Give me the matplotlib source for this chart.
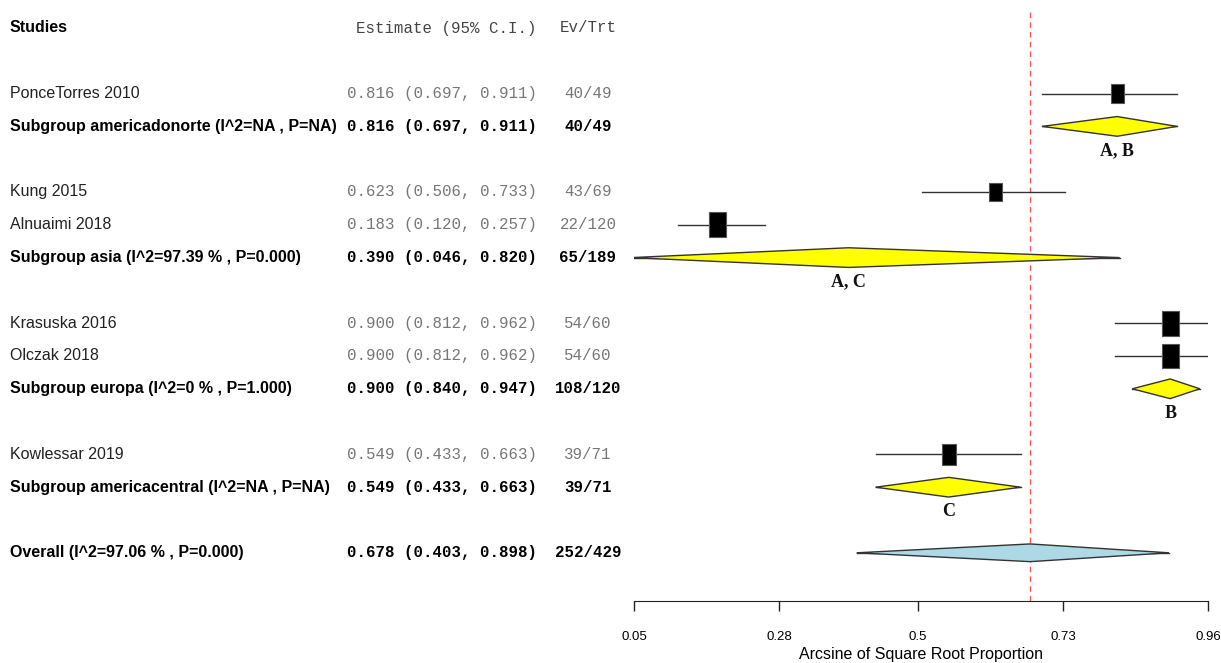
'''
Forest plot of pooled proportions by region (subgroup meta-analysis).
'''

import matplotlib
matplotlib.use("Agg")
import matplotlib.pyplot as plt
from matplotlib.patches import Rectangle, Polygon
from matplotlib.transforms import blended_transform_factory

# ---- data ----
studies = ["PonceTorres 2010", "Kung 2015", "Alnuaimi 2018",
           "Krasuska 2016", "Olczak 2018", "Kowlessar 2019"]
study_est = [0.816, 0.623, 0.183, 0.900, 0.900, 0.549]
study_lo = [0.697, 0.506, 0.120, 0.812, 0.812, 0.433]
study_hi = [0.911, 0.733, 0.257, 0.962, 0.962, 0.663]
study_evtrt = ["40/49", "43/69", "22/120", "54/60", "54/60", "39/71"]
study_weight = [13, 13, 17, 17, 17, 14]   # relative box size
study_group = [0, 1, 1, 2, 2, 3]

groups = ["Subgroup americadonorte (I^2=NA , P=NA)",
          "Subgroup asia (I^2=97.39 % , P=0.000)",
          "Subgroup europa (I^2=0 % , P=1.000)",
          "Subgroup americacentral (I^2=NA , P=NA)"]
group_est = [0.816, 0.390, 0.900, 0.549]
group_lo = [0.697, 0.046, 0.840, 0.433]
group_hi = [0.911, 0.820, 0.947, 0.663]
group_evtrt = ["40/49", "65/189", "108/120", "39/71"]
group_letters = ["A, B", "A, C", "B", "C"]

overall_label = "Overall (I^2=97.06 % , P=0.000)"
overall_est = 0.678
overall_lo = 0.403
overall_hi = 0.898
overall_evtrt = "252/429"

xticks = [0.05, 0.28, 0.5, 0.73, 0.96]
xtick_labels = ["0.05", "0.28", "0.5", "0.73", "0.96"]

SANS = ["Liberation Sans", "DejaVu Sans"]
MONO = ["Liberation Mono", "DejaVu Sans Mono"]
SERIF = ["Liberation Serif", "DejaVu Serif"]

W, H = 1221, 663
fig = plt.figure(figsize=(W / 100, H / 100), dpi=100)

# plot area: x 634..1208 px, rows from top 0 px to axis line at 601 px
row_px = 32.8
top_row = -28 / row_px
bot_row = (601 - 28) / row_px
ax = fig.add_axes([634 / W, (H - 601) / H, (1208 - 634) / W, 601 / H])
ax.set_xlim(0.05, 0.96)
ax.set_ylim(bot_row, top_row)
x_per_px = 0.91 / 574

# row layout: header, blank, then studies + subgroup line, blank between groups
r = 2
study_rows = []
group_rows = []
for g in range(len(groups)):
    for i, s in enumerate(studies):
        if study_group[i] == g:
            study_rows.append(r)
            r += 1
    group_rows.append(r)
    r += 2
overall_row = r

name_x = 10 / W
est_x = 537 / W
ev_x = 588 / W
ttrans = blended_transform_factory(fig.transFigure, ax.transData)

def row_text(row, label, est, lo, hi, evtrt, bold, color_name, color_num):
    fw = "bold" if bold else "normal"
    ax.text(name_x, row, label, transform=ttrans, ha="left", va="center",
            family=SANS, fontsize=11.5, fontweight=fw, color=color_name)
    ax.text(est_x, row, f"{est:.3f} ({lo:.3f}, {hi:.3f})", transform=ttrans,
            ha="right", va="center", family=MONO, fontsize=11.3,
            fontweight=fw, color=color_num)
    ax.text(ev_x, row, evtrt, transform=ttrans, ha="center", va="center",
            family=MONO, fontsize=11.3, fontweight=fw, color=color_num)

# header
ax.text(name_x, 0, "Studies", transform=ttrans, ha="left", va="center",
        family=SANS, fontsize=11.5, fontweight="bold", color="black")
ax.text(est_x, 0, "Estimate (95% C.I.)", transform=ttrans, ha="right",
        va="center", family=MONO, fontsize=11.3, color="#444444")
ax.text(ev_x, 0, "Ev/Trt", transform=ttrans, ha="center", va="center",
        family=MONO, fontsize=11.3, color="#444444")

# reference line at overall estimate
ax.plot([overall_est, overall_est], [bot_row, -0.55], color="#ff5555",
        linestyle=(0, (4, 3)), linewidth=1.0, zorder=1)

# studies
for i, s in enumerate(studies):
    y = study_rows[i]
    ax.plot([study_lo[i], study_hi[i]], [y, y], color="#333333", lw=1.0, zorder=2)
    bw = study_weight[i] * x_per_px
    bh = study_weight[i] * 1.45 / row_px
    ax.add_patch(Rectangle((study_est[i] - bw / 2, y - bh / 2), bw, bh,
                           facecolor="black", edgecolor="#555555", lw=0.8, zorder=3))
    row_text(y, s, study_est[i], study_lo[i], study_hi[i], study_evtrt[i],
             False, "#222222", "#777777")

def diamond(lo, est, hi, y, half, color):
    ax.plot([lo, hi], [y, y], color="#333333", lw=1.0, zorder=2)
    ax.add_patch(Polygon([(lo, y), (est, y - half), (hi, y), (est, y + half)],
                         closed=True, facecolor=color, edgecolor="#333333",
                         lw=1.0, zorder=3))

for g in range(len(groups)):
    y = group_rows[g]
    diamond(group_lo[g], group_est[g], group_hi[g], y, 0.3, "yellow")
    ax.text(group_est[g], y + 0.75, group_letters[g], ha="center", va="center",
            family=SERIF, fontsize=13, fontweight="bold", color="#111111")
    row_text(y, groups[g], group_est[g], group_lo[g], group_hi[g],
             group_evtrt[g], True, "black", "black")

diamond(overall_lo, overall_est, overall_hi, overall_row, 0.27, "#add8e6")
row_text(overall_row, overall_label, overall_est, overall_lo, overall_hi,
         overall_evtrt, True, "black", "black")

# axis
for side in ["top", "right", "left"]:
    ax.spines[side].set_visible(False)
ax.spines["bottom"].set_color("#222222")
ax.set_yticks([])
ax.set_xticks(xticks)
ax.set_xticklabels(xtick_labels, family=SANS, fontsize=9.5)
ax.tick_params(axis="x", length=7.5, width=1, color="#222222", pad=14)
ax.set_xlabel("Arcsine of Square Root Proportion", family=SANS, fontsize=11.5,
              labelpad=3)

fig.savefig("out.png", dpi=100)
